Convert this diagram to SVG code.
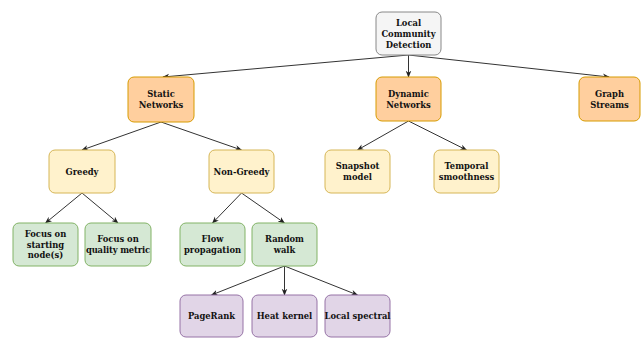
<svg xmlns="http://www.w3.org/2000/svg" width="641" height="338" viewBox="0 0 641 338">
<defs>
<marker id="ah" viewBox="0 0 10 10" refX="9" refY="5" markerWidth="7" markerHeight="7" markerUnits="userSpaceOnUse" orient="auto">
<path d="M0,1 L10,5 L0,9 L3,5 Z" fill="#222"/>
</marker>
<style>
text{font-family:"DejaVu Serif","Liberation Serif",serif;font-weight:bold;font-size:8.4px;fill:#111;text-anchor:middle}
rect{stroke-width:1;}
.g{fill:#f5f5f5;stroke:#888}
.o{fill:#ffcf9e;stroke:#d79b00}
.y{fill:#fff2cc;stroke:#d6b656}
.gr{fill:#d5e8d4;stroke:#82b366}
.p{fill:#e1d5e7;stroke:#9673a6}
.e{stroke:#333;stroke-width:1;fill:none;marker-end:url(#ah)}
.tight{letter-spacing:-0.15px}
</style>
</defs>
<rect width="641" height="338" fill="#fff"/>
<g id="connectors">
<line class="e" x1="408.5" y1="55" x2="163" y2="77"/>
<line class="e" x1="408.5" y1="55" x2="408.5" y2="77"/>
<line class="e" x1="408.5" y1="55" x2="609" y2="77"/>
<line class="e" x1="161" y1="122" x2="82" y2="150"/>
<line class="e" x1="161" y1="122" x2="241.5" y2="150"/>
<line class="e" x1="408.5" y1="121" x2="357.5" y2="150"/>
<line class="e" x1="408.5" y1="121" x2="466.5" y2="150"/>
<line class="e" x1="82" y1="193" x2="45.5" y2="223"/>
<line class="e" x1="82" y1="193" x2="118" y2="223"/>
<line class="e" x1="241.5" y1="193" x2="212.5" y2="223"/>
<line class="e" x1="241.5" y1="193" x2="284.5" y2="223"/>
<line class="e" x1="284.5" y1="266" x2="211.5" y2="295"/>
<line class="e" x1="284.5" y1="266" x2="284.5" y2="295"/>
<line class="e" x1="284.5" y1="266" x2="357.5" y2="295"/>
</g>
<g id="n-lcd"><rect class="g" x="376" y="12" width="65" height="43" rx="6"/><text x="408.5" y="26">Local</text><text x="408.5" y="37">Community</text><text x="408.5" y="47.5">Detection</text></g>
<g id="n-static"><rect class="o" x="128" y="77" width="66" height="45" rx="6"/><text x="161" y="97">Static</text><text x="161" y="108">Networks</text></g>
<g id="n-dynamic"><rect class="o" x="376" y="77" width="65" height="44" rx="6"/><text x="408.5" y="97">Dynamic</text><text x="408.5" y="108">Networks</text></g>
<g id="n-graph"><rect class="o" x="579" y="77" width="61" height="44" rx="6"/><text x="609.5" y="97">Graph</text><text x="609.5" y="108">Streams</text></g>
<g id="n-greedy"><rect class="y" x="49" y="150" width="66" height="43" rx="6"/><text x="82" y="174.5">Greedy</text></g>
<g id="n-nongreedy"><rect class="y" x="209" y="150" width="65" height="43" rx="6"/><text x="241.5" y="174.5">Non-Greedy</text></g>
<g id="n-snapshot"><rect class="y" x="325" y="150" width="65" height="43" rx="6"/><text x="357.5" y="169">Snapshot</text><text x="357.5" y="180">model</text></g>
<g id="n-temporal"><rect class="y" x="434" y="150" width="65" height="43" rx="6"/><text x="466.5" y="169">Temporal</text><text x="466.5" y="180">smoothness</text></g>
<g id="n-starting"><rect class="gr" x="13" y="223" width="65" height="43" rx="6"/><text x="45.5" y="237">Focus on</text><text x="45.5" y="247.5">starting</text><text x="45.5" y="258">node(s)</text></g>
<g id="n-quality"><rect class="gr" x="85" y="223" width="66" height="43" rx="6"/><text x="118" y="242">Focus on</text><text class="tight" x="118" y="253">quality metric</text></g>
<g id="n-flow"><rect class="gr" x="180" y="223" width="65" height="43" rx="6"/><text x="212.5" y="242">Flow</text><text x="212.5" y="253">propagation</text></g>
<g id="n-random"><rect class="gr" x="252" y="223" width="65" height="43" rx="6"/><text x="284.5" y="242">Random</text><text x="284.5" y="253">walk</text></g>
<g id="n-pagerank"><rect class="p" x="180" y="295" width="63" height="42" rx="6"/><text x="211.5" y="319">PageRank</text></g>
<g id="n-heat"><rect class="p" x="252" y="295" width="65" height="42" rx="6"/><text x="284.5" y="319">Heat kernel</text></g>
<g id="n-spectral"><rect class="p" x="325" y="295" width="65" height="42" rx="6"/><text x="357.5" y="319">Local spectral</text></g>
</svg>
